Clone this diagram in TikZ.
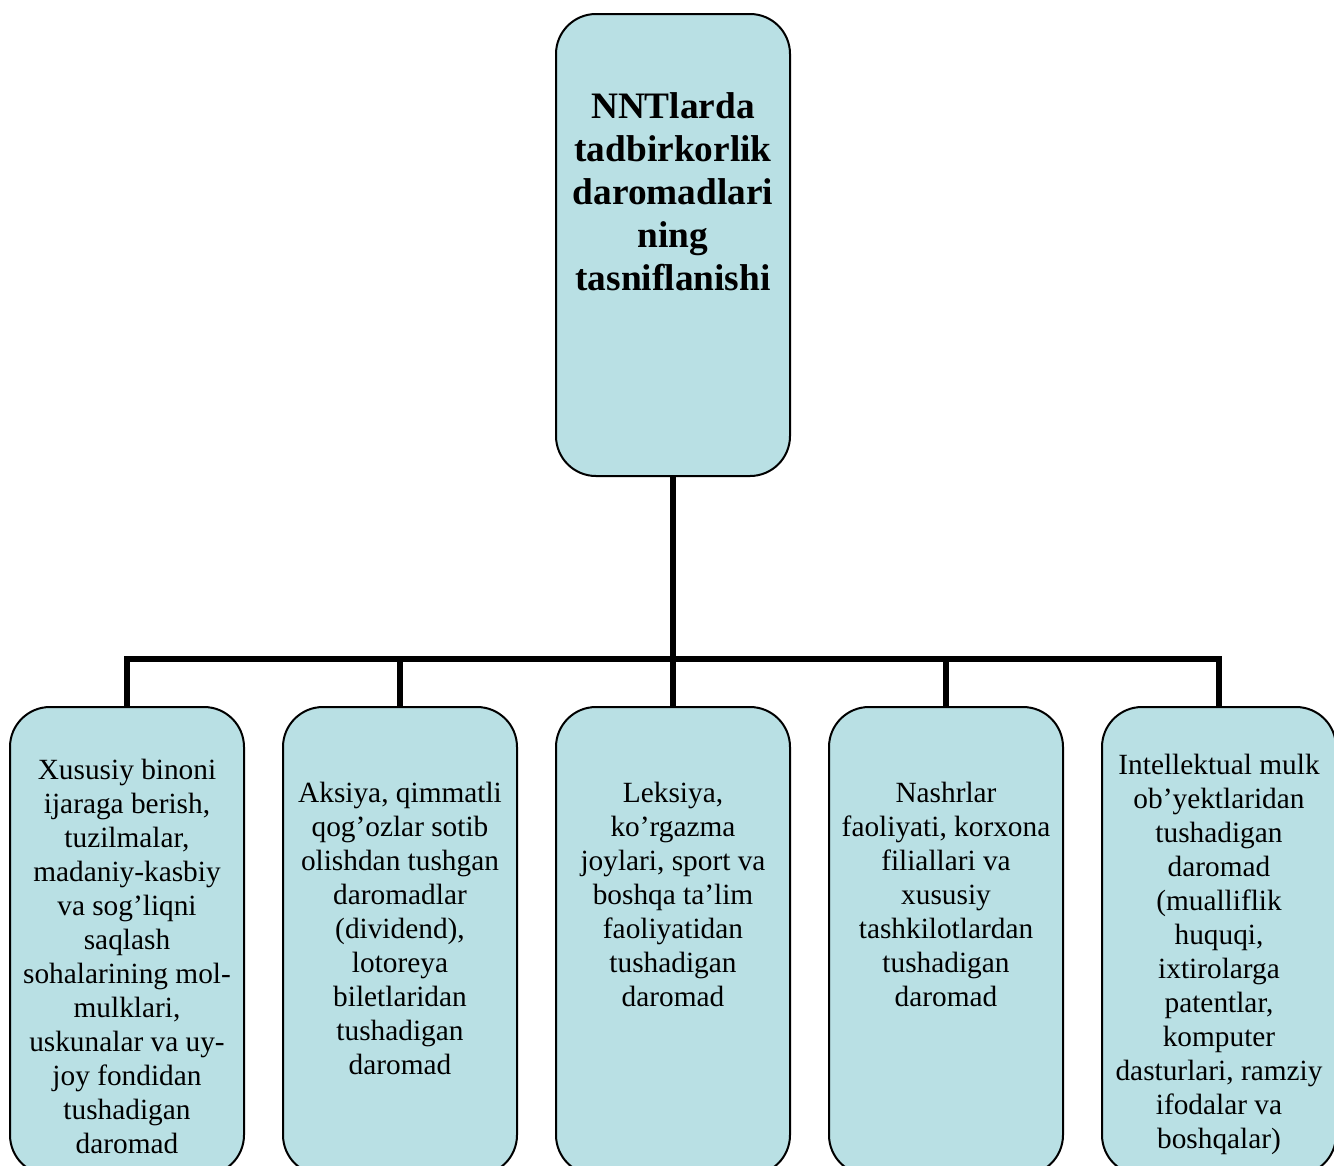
\documentclass[tikz,border=0pt]{standalone}
\usepackage{fontspec}
\setmainfont{Liberation Serif}
\definecolor{boxfill}{RGB}{185,224,228}
\begin{document}
\begin{tikzpicture}[x=0.75pt, y=-0.75pt,
		box/.style={draw, line width=1.5pt, fill=boxfill, rounded corners=30pt, minimum width=175.5pt},
		txt/.style={anchor=north, align=center, inner sep=0pt, font=\fontsize{22}{25.5}\selectfont},
		bus/.style={line width=4.5pt}]
		\useasboundingbox (0,0) rectangle (1334,1165);
		\clip (0,0) rectangle (1334,1165);
		\node[box, minimum height=346.5pt] (top) at (673,245){};
		\node[txt, font=\fontsize{28}{32.3}\selectfont\bfseries] (toptext) at (673,92){NNTlarda\\tadbirkorlik\\daromadlari\\ning\\tasniflanishi};
		\foreach \i/\x in {1/127, 2/400, 3/673, 4/946, 5/1219}
			\node[box, minimum height=351pt] (b\i) at (\x,941){};
		\coordinate (bus) at (673,659);
		\draw[bus](top.south)--(bus);
		\draw[bus](b1.north)--(b1.north |- bus)--(b5.north |- bus)--(b5.north);
		\foreach \i in {2, 3, 4}
			\draw[bus](b\i.north)--(b\i.north |- bus);
		\node[txt] (t1) at (127,759){Xususiy binoni\\ijaraga berish,\\tuzilmalar,\\madaniy-kasbiy\\va sog’liqni\\saqlash\\sohalarining mol-\\mulklari,\\uskunalar va uy-\\joy fondidan\\tushadigan\\daromad};
		\node[txt] (t2) at (400,782){Aksiya, qimmatli\\qog’ozlar sotib\\olishdan tushgan\\daromadlar\\(dividend),\\lotoreya\\biletlaridan\\tushadigan\\daromad};
		\node[txt] (t3) at (673,782){Leksiya,\\ko’rgazma\\joylari, sport va\\boshqa ta’lim\\faoliyatidan\\tushadigan\\daromad};
		\node[txt] (t4) at (946,782){Nashrlar\\faoliyati, korxona\\filiallari va\\xususiy\\tashkilotlardan\\tushadigan\\daromad};
		\node[txt] (t5) at (1219,754){Intellektual mulk\\ob’yektlaridan\\tushadigan\\daromad\\(mualliflik\\huquqi,\\ixtirolarga\\patentlar,\\komputer\\dasturlari, ramziy\\ifodalar va\\boshqalar)};
	\end{tikzpicture}
\end{document}
